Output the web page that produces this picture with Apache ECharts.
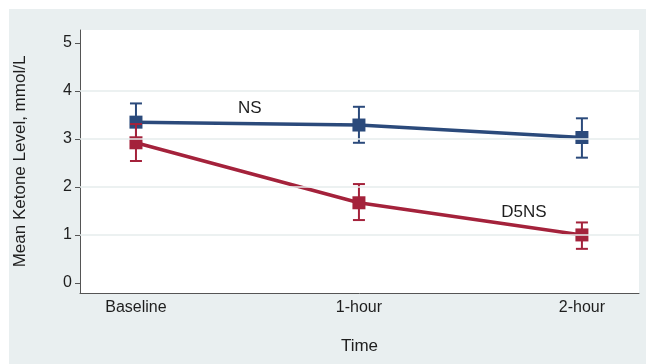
<!DOCTYPE html>
<html>
<head>
<meta charset="utf-8">
<script src="https://cdn.jsdelivr.net/npm/echarts@6/dist/echarts.min.js"></script>
<style>
  html, body { margin: 0; padding: 0; background: #fff; }
  #chart { width: 646px; height: 364px; }
</style>
</head>
<body>
<div id="chart"></div>
<script>
// Time points (x positions 0, 1, 2)
const timeLabels = ['Baseline', '1-hour', '2-hour'];
const timeIndex = [0, 1, 2];

// Mean ketone level (mmol/L) with 95% CI bounds
const nsMean  = [3.35, 3.29, 3.03];
const nsLow   = [2.96, 2.92, 2.61];
const nsHigh  = [3.74, 3.67, 3.43];

const d5nsMean = [2.92, 1.67, 1.00];
const d5nsLow  = [2.54, 1.31, 0.71];
const d5nsHigh = [3.31, 2.06, 1.26];

// Y-axis ticks and horizontal grid lines
const yTicks = [0, 1, 2, 3, 4, 5];
const yGrid = [1, 2, 3, 4];

// Group labels placed in data units
const groupLabels = [
  { name: 'NS', x: 0.51, y: 3.63 },
  { name: 'D5NS', x: 1.74, y: 1.48 }
];

const BLUE = '#2b4a7b';
const RED = '#a4223b';
const TEXT = '#1e1e1e';
const FONT = 'Liberation Sans, Arial, sans-serif';

function pairs(ys) { return timeIndex.map((x, i) => [x, ys[i]]); }
function ciData(lo, hi) { return timeIndex.map((x, i) => [x, lo[i], hi[i]]); }

function errorBar(color) {
  return function (params, api) {
    const x = api.value(0);
    const lo = api.coord([x, api.value(1)]);
    const hi = api.coord([x, api.value(2)]);
    const half = 6;
    const style = { stroke: color, lineWidth: 2 };
    return {
      type: 'group',
      children: [
        { type: 'line', shape: { x1: lo[0], y1: lo[1], x2: hi[0], y2: hi[1] }, style },
        { type: 'line', shape: { x1: lo[0] - half, y1: lo[1], x2: lo[0] + half, y2: lo[1] }, style },
        { type: 'line', shape: { x1: hi[0] - half, y1: hi[1], x2: hi[0] + half, y2: hi[1] }, style }
      ]
    };
  };
}

const chart = echarts.init(document.getElementById('chart'), null, { renderer: 'canvas' });

chart.setOption({
  backgroundColor: '#ffffff',
  animation: false,
  graphic: [{
    type: 'rect',
    z: -10,
    shape: { x: 9, y: 9, width: 637, height: 355 },
    style: { fill: '#e9eff0' }
  }],
  grid: {
    left: 80, right: 7, top: 30, bottom: 71,
    show: true, backgroundColor: '#ffffff', borderWidth: 0
  },
  xAxis: {
    type: 'value',
    min: -0.251, max: 2.256,
    name: 'Time',
    nameLocation: 'middle',
    nameGap: 45,
    nameTextStyle: { fontFamily: FONT, fontSize: 17, color: TEXT },
    axisLine: { show: true, onZero: false, lineStyle: { color: '#555', width: 1 } },
    axisTick: { show: false },
    splitLine: { show: false },
    axisLabel: {
      customValues: timeIndex,
      formatter: v => timeLabels[Math.round(v)],
      fontFamily: FONT, fontSize: 16, color: TEXT, margin: 7
    }
  },
  yAxis: {
    type: 'value',
    min: -0.21, max: 5.27,
    name: 'Mean Ketone Level, mmol/L',
    nameLocation: 'middle',
    nameGap: 51,
    nameTextStyle: { fontFamily: FONT, fontSize: 17, color: TEXT },
    axisLine: { show: true, onZero: false, lineStyle: { color: '#555', width: 1 } },
    axisTick: { show: true, length: 5, customValues: yTicks, lineStyle: { color: '#555' } },
    splitLine: { show: false },
    axisLabel: {
      customValues: yTicks,
      fontFamily: FONT, fontSize: 16, color: TEXT, margin: 8
    }
  },
  series: [
    {
      type: 'line',
      z: 1,
      data: [],
      silent: true,
      markLine: {
        silent: true,
        symbol: 'none',
        label: { show: false },
        lineStyle: { color: '#e6eced', width: 1.5, type: 'solid' },
        data: yGrid.map(v => ({ yAxis: v }))
      }
    },
    {
      name: 'NS', type: 'line', z: 3,
      data: pairs(nsMean),
      symbol: 'rect', symbolSize: 13,
      lineStyle: { color: BLUE, width: 3.5 },
      itemStyle: { color: BLUE }
    },
    {
      type: 'custom', z: 3,
      renderItem: errorBar(BLUE),
      data: ciData(nsLow, nsHigh),
      encode: { x: 0, y: [1, 2] }
    },
    {
      name: 'D5NS', type: 'line', z: 4,
      data: pairs(d5nsMean),
      symbol: 'rect', symbolSize: 13,
      lineStyle: { color: RED, width: 3.5 },
      itemStyle: { color: RED }
    },
    {
      type: 'custom', z: 4,
      renderItem: errorBar(RED),
      data: ciData(d5nsLow, d5nsHigh),
      encode: { x: 0, y: [1, 2] }
    },
    {
      type: 'scatter', z: 5,
      symbolSize: 0,
      silent: true,
      itemStyle: { opacity: 1 },
      data: groupLabels.map(g => ({ value: [g.x, g.y], name: g.name })),
      label: {
        show: true, position: 'inside',
        formatter: p => p.name,
        fontFamily: FONT, fontSize: 17, color: TEXT,
        textBorderWidth: 0, textBorderColor: 'transparent'
      }
    }
  ]
});
</script>
</body>
</html>
